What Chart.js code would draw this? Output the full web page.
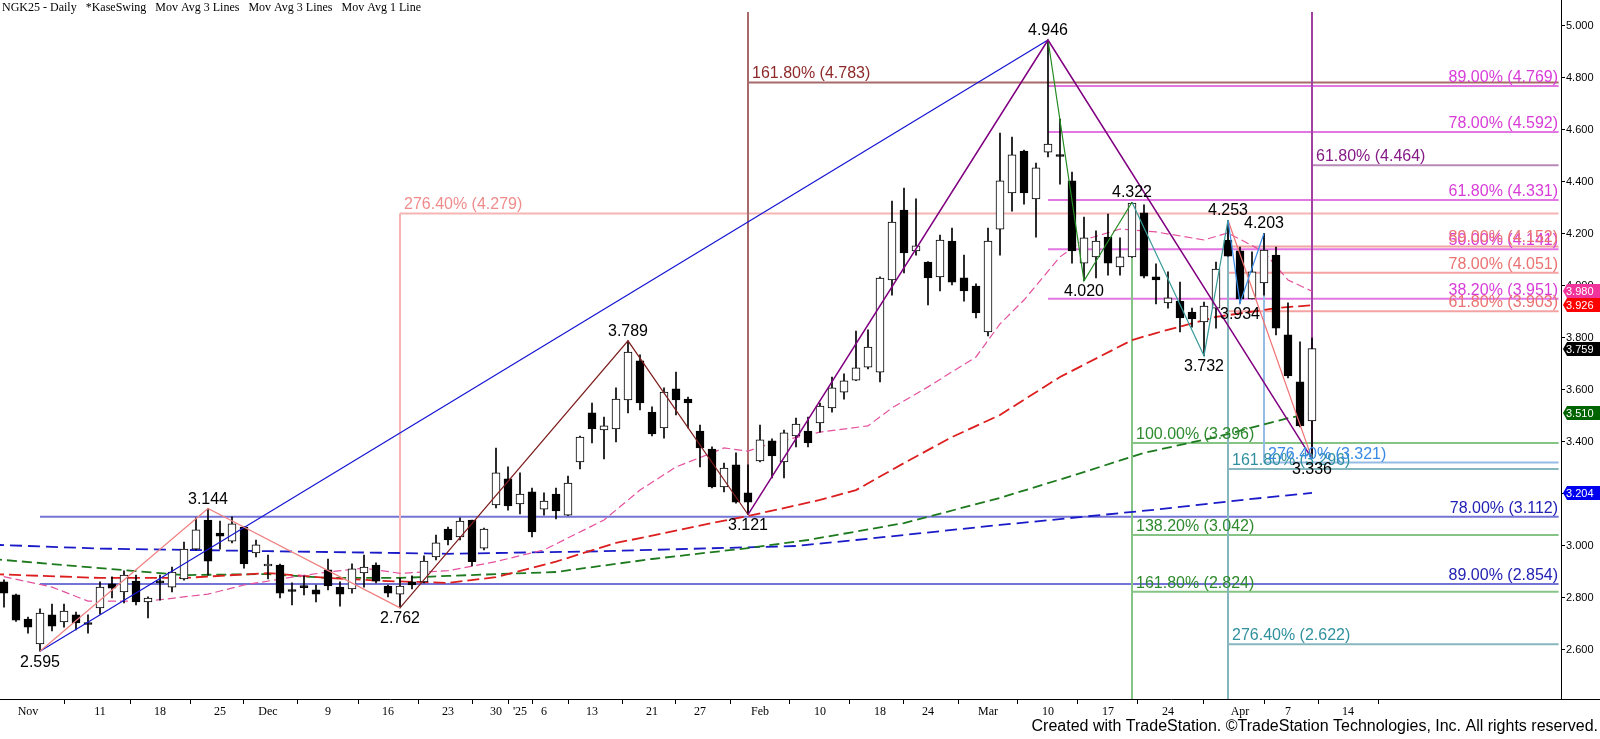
<!DOCTYPE html>
<html lang="en">
<head>
<meta charset="UTF-8">
<title>NGK25 - Daily</title>
<style>
  html, body { margin: 0; padding: 0; background: #fff; }
  #wrap { width: 1600px; height: 739px; }
</style>
</head>
<body>
<div id="wrap"><canvas id="myChart" width="1600" height="739"></canvas></div>

<script src="https://cdn.jsdelivr.net/npm/chart.js"></script>
<script>
// one bar per session, index 0 = Oct 30 2024 (holidays skipped)
const opens  = [2.862,2.812,2.719,2.623,2.735,2.708,2.735,2.702,2.762,2.854,2.823,2.865,2.785,2.865,2.842,2.873,2.988,3.100,3.050,3.019,
                3.073,2.973,2.923,2.927,2.829,2.844,2.831,2.908,2.842,2.835,2.896,2.927,2.846,2.815,2.862,2.862,2.958,3.065,3.035,3.100,
                2.992,3.158,3.258,3.162,3.208,3.142,3.200,3.119,3.323,3.512,3.446,3.450,3.562,3.712,3.515,3.454,3.604,3.565,3.442,3.373,
                3.227,3.312,3.204,3.327,3.404,3.323,3.423,3.442,3.473,3.531,3.592,3.638,3.688,3.669,4.023,4.292,4.135,4.092,4.035,4.173,
                4.031,4.000,3.823,4.219,4.358,4.519,4.335,4.515,4.502,4.404,4.088,4.112,4.188,4.073,4.112,4.281,4.035,3.935,3.942,3.900,
                3.862,3.915,4.177,4.135,3.950,4.012,4.119,3.812,3.631,3.481];
const highs  = [2.870,2.815,2.727,2.758,2.777,2.777,2.746,2.735,2.862,2.881,2.904,2.888,2.804,2.888,2.919,3.015,3.108,3.144,3.096,3.112,
                3.076,3.023,2.965,2.930,2.858,2.885,2.850,2.950,2.862,2.931,2.965,2.935,2.850,2.877,2.885,2.962,3.042,3.073,3.108,3.100,
                3.069,3.377,3.304,3.281,3.223,3.204,3.223,3.269,3.423,3.550,3.496,3.608,3.789,3.735,3.535,3.608,3.669,3.573,3.465,3.381,
                3.319,3.358,3.312,3.465,3.412,3.446,3.492,3.496,3.550,3.650,3.662,3.827,3.831,4.035,4.327,4.377,4.335,4.094,4.196,4.223,
                4.119,4.008,4.223,4.588,4.573,4.523,4.473,4.946,4.642,4.438,4.265,4.212,4.277,4.185,4.322,4.312,4.085,4.054,4.015,3.915,
                3.938,4.092,4.253,4.150,4.131,4.203,4.150,3.935,3.785,3.800];
const lows   = [2.765,2.710,2.665,2.595,2.673,2.688,2.677,2.665,2.738,2.800,2.781,2.773,2.723,2.792,2.823,2.869,2.985,2.888,2.988,3.012,
                2.915,2.958,2.873,2.800,2.773,2.812,2.785,2.831,2.769,2.819,2.842,2.858,2.804,2.762,2.835,2.858,2.946,3.004,3.023,2.923,
                2.985,3.146,3.138,3.123,3.035,3.119,3.104,3.117,3.296,3.396,3.335,3.400,3.512,3.523,3.423,3.415,3.504,3.454,3.304,3.223,
                3.208,3.165,3.121,3.323,3.262,3.262,3.381,3.381,3.438,3.515,3.565,3.636,3.681,3.631,3.965,4.050,4.119,3.927,3.981,4.004,
                3.942,3.877,3.808,4.119,4.288,4.315,4.188,4.496,4.392,4.088,4.020,4.031,4.042,4.042,4.110,4.031,3.931,3.915,3.823,3.842,
                3.732,3.838,4.115,3.934,3.950,3.965,3.812,3.646,3.458,3.336];
const closes = [2.819,2.715,2.688,2.742,2.692,2.750,2.704,2.698,2.842,2.838,2.888,2.785,2.800,2.858,2.900,2.988,3.062,2.942,3.038,3.085,
                2.931,3.004,2.927,2.819,2.825,2.840,2.815,2.846,2.815,2.912,2.919,2.865,2.819,2.846,2.850,2.942,3.012,3.023,3.096,2.940,
                3.065,3.281,3.154,3.200,3.054,3.173,3.135,3.242,3.419,3.450,3.462,3.565,3.746,3.550,3.431,3.592,3.562,3.550,3.377,3.227,
                3.300,3.169,3.169,3.408,3.346,3.435,3.469,3.396,3.538,3.608,3.635,3.685,3.765,4.030,4.246,4.127,4.154,4.031,4.177,4.015,
                3.981,3.896,4.173,4.404,4.504,4.358,4.454,4.546,4.498,4.135,4.185,4.173,4.088,4.112,4.319,4.038,4.023,3.954,3.877,3.873,
                3.923,4.065,4.115,3.950,4.054,4.138,3.838,3.654,3.462,3.759];

// date axis
const tickIdx    = [2, 8, 13, 18, 22, 27, 32, 37, 41, 43, 45, 49, 54, 58, 63, 68, 73, 77, 82, 87, 92, 97, 103, 107, 112];
const tickLabels = ['Nov','11','18','25','Dec','9','16','23','30',"'25",'6','13','21','27','Feb','10','18','24','Mar','10','17','24','Apr','7','14'];
const priceTicks = [2.6, 2.8, 3.0, 3.2, 3.4, 3.6, 3.8, 4.0, 4.2, 4.4, 4.6, 4.8, 5.0];

// moving averages (bar index, value)
const maPinkIdx  = [-1, 4, 7, 12, 17, 20, 24, 27, 30, 33, 37, 41, 45, 50, 53, 56, 59, 60, 62, 64, 68, 72, 74, 77, 81, 83, 85, 88, 90, 93, 96, 100, 102, 105, 107, 109];
const maPink     = [2.892,2.842,2.788,2.788,2.815,2.850,2.880,2.900,2.915,2.895,2.905,2.940,2.985,3.100,3.215,3.304,3.358,3.377,3.365,3.396,3.438,3.462,3.531,3.612,3.727,3.854,3.946,4.112,4.177,4.219,4.208,4.177,4.204,4.131,4.023,3.980];
const maRedIdx   = [-1, 8, 15, 22, 27, 32, 37, 41, 46, 51, 53, 59, 62, 68, 71, 75, 79, 83, 88, 94, 96, 101, 106, 109];
const maRed      = [2.892,2.877,2.877,2.896,2.877,2.865,2.858,2.880,2.940,3.012,3.030,3.088,3.115,3.177,3.215,3.319,3.419,3.504,3.650,3.792,3.819,3.881,3.915,3.926];
const maGreenIdx = [-1, 8, 15, 22, 27, 33, 37, 46, 54, 62, 67, 75, 83, 89, 95, 101, 107, 109];
const maGreen    = [2.950,2.915,2.888,2.892,2.877,2.877,2.885,2.900,2.950,2.992,3.023,3.088,3.185,3.270,3.358,3.419,3.492,3.510];
const maBlueIdx  = [-1, 8, 22, 33, 37, 50, 62, 66, 71, 83, 96, 104, 109];
const maBlue     = [3.005,2.990,2.980,2.973,2.970,2.980,2.995,3.000,3.023,3.081,3.140,3.181,3.204];

// swing pivots
const swingIdx = [3, 17, 33, 52, 62, 87, 90, 94, 100, 102, 103, 105, 109];
const swingVal = [2.595, 3.144, 2.762, 3.789, 3.121, 4.946, 4.020, 4.322, 3.732, 4.253, 3.934, 4.203, 3.336];

// fib levels, grouped by the pivot they are drawn from
const fibBluePct    = ['78.00%', '89.00%'];                               // from 2.595
const fibBlueVal    = [3.112, 2.854];
const fibPinkPct    = ['276.40%'];                                        // from 2.762
const fibPinkVal    = [4.279];
const fibBrownPct   = ['161.80%'];                                        // from 3.121
const fibBrownVal   = [4.783];
const fibMagPct     = ['89.00%', '78.00%', '61.80%', '50.00%', '38.20%']; // from 4.946
const fibMagVal     = [4.769, 4.592, 4.331, 4.141, 3.951];
const fibGreenPct   = ['100.00%', '138.20%', '161.80%'];                  // from 4.322
const fibGreenVal   = [3.396, 3.042, 2.824];
const fibTealPct    = ['161.80%', '276.40%'];                             // from 4.253
const fibTealVal    = [3.296, 2.622];
const fibSalmonPct  = ['89.00%', '78.00%', '61.80%'];                     // from 4.253
const fibSalmonVal  = [4.152, 4.051, 3.903];
const fibLtBluePct  = ['276.40%'];                                        // from 4.203
const fibLtBlueVal  = [3.321];
const fibPurplePct  = ['61.80%'];                                         // from 3.336
const fibPurpleVal  = [4.464];

const X_MIN = -1 / 3, X_MAX = 129.75;
const Y_MIN = 2.4115, Y_MAX = 5.0538;

const ctx = document.getElementById('myChart');

const pts = (idx, vals) => idx.map((v, i) => ({ x: v, y: vals[i] }));
const pivot = k => ({ x: swingIdx[k], y: swingVal[k] });

function lineDs(data, color, width, dash, order) {
    return {
        type: 'line', data: data, borderColor: color, borderWidth: width,
        borderDash: dash || [], pointRadius: 0, tension: 0, fill: false, order: order
    };
}

// fib groups: [pivot k, pct, val, line colour, label colour, label side]
const fibGroups = [
    [0, fibBluePct, fibBlueVal, '#7474d6', '#2222b4', 'right'],
    [2, fibPinkPct, fibPinkVal, '#f6b4b4', '#f08c8c', 'left'],
    [4, fibBrownPct, fibBrownVal, '#a86a6a', '#8e2a2a', 'left'],
    [5, fibMagPct, fibMagVal, '#e276e2', '#d83cd8', 'right'],
    [7, fibGreenPct, fibGreenVal, '#86c486', '#2e8a2e', 'left'],
    [9, fibTealPct, fibTealVal, '#86b6be', '#30909e', 'left'],
    [9, fibSalmonPct, fibSalmonVal, '#f4a2a2', '#ea7272', 'right'],
    [11, fibLtBluePct, fibLtBlueVal, '#96bce6', '#3a8ae4', 'left'],
    [12, fibPurplePct, fibPurpleVal, '#b888b8', '#861a86', 'left']
];

const datasets = [];

// zigzag swing lines
datasets.push(lineDs([pivot(0), pivot(1), pivot(2)], '#f08080', 1.2, null, 1));
datasets.push(lineDs([pivot(2), pivot(3), pivot(4)], '#7e1e1e', 1.2, null, 1));
datasets.push(lineDs([pivot(4), pivot(5), pivot(12)], '#800080', 1.5, null, 1));
datasets.push(lineDs([pivot(0), pivot(5)], '#1414d2', 1.2, null, 1));
datasets.push(lineDs([pivot(5), pivot(6), pivot(7)], '#228b22', 1.2, null, 1));
datasets.push(lineDs([pivot(7), pivot(8), pivot(9)], '#3a9a9a', 1.2, null, 1));
datasets.push(lineDs([pivot(9), pivot(10), pivot(11)], '#3b8ee8', 1.2, null, 1));
datasets.push(lineDs([pivot(9), pivot(12)], '#f07070', 1.2, null, 1));

// candles
datasets.push({
    type: 'bar', order: 2, grouped: false, barThickness: 8, minBarLength: 2,
    data: opens.map((o, i) => ({ x: i, y: [o, closes[i]] })),
    backgroundColor: opens.map((o, i) => closes[i] >= o ? '#ffffff' : '#000000'),
    borderColor: '#000000', borderWidth: 1, borderSkipped: false
});
datasets.push({
    type: 'bar', order: 3, grouped: false, barThickness: 1,
    data: highs.map((h, i) => ({ x: i, y: [lows[i], h] })),
    backgroundColor: '#000000', borderWidth: 0
});

// moving averages
datasets.push(lineDs(pts(maPinkIdx, maPink), '#e4509e', 1.2, [8, 4], 4));
datasets.push(lineDs(pts(maRedIdx, maRed), '#dc1e1e', 1.8, [12, 5], 4));
datasets.push(lineDs(pts(maGreenIdx, maGreen), '#1e7a1e', 1.8, [10, 5], 4));
datasets.push(lineDs(pts(maBlueIdx, maBlue), '#1a1ac8', 1.8, [12, 6], 4));

// vertical marker lines
datasets.push(lineDs([pivot(4), { x: swingIdx[4], y: Y_MAX }], '#a86a6a', 2, null, 5));
datasets.push(lineDs([pivot(2), { x: swingIdx[2], y: fibPinkVal[0] }], '#f6b4b4', 2, null, 5));
datasets.push(lineDs([pivot(7), { x: swingIdx[7], y: Y_MIN }], '#86c486', 2, null, 5));
datasets.push(lineDs([pivot(9), { x: swingIdx[9], y: Y_MIN }], '#86b6be', 2, null, 5));
datasets.push(lineDs([pivot(11), { x: swingIdx[11], y: fibLtBlueVal[0] }], '#96bce6', 2, null, 5));
datasets.push(lineDs([pivot(12), { x: swingIdx[12], y: Y_MAX }], '#a040a0', 2, null, 5));

// horizontal fib lines
fibGroups.forEach(g => {
    g[2].forEach(v => {
        datasets.push(lineDs([{ x: swingIdx[g[0]], y: v }, { x: X_MAX - 0.2, y: v }], g[3], 2, null, 6));
    });
});

const overlay = {
    id: 'overlay',
    afterDatasetsDraw(chart) {
        const c = chart.ctx, area = chart.chartArea;
        const xs = chart.scales.x, ys = chart.scales.y;
        c.save();

        // fib labels
        c.font = '16px "Liberation Sans", Arial, sans-serif';
        c.textBaseline = 'alphabetic';
        fibGroups.forEach(g => {
            c.fillStyle = g[4];
            g[2].forEach((v, j) => {
                const txt = g[1][j] + ' (' + v.toFixed(3) + ')';
                const py = ys.getPixelForValue(v) - 4;
                if (g[5] === 'right') {
                    c.textAlign = 'right';
                    c.fillText(txt, area.right - 3, py);
                } else {
                    c.textAlign = 'left';
                    c.fillText(txt, xs.getPixelForValue(swingIdx[g[0]]) + 4, py);
                }
            });
        });

        // pivot labels
        c.fillStyle = '#000';
        c.textAlign = 'center';
        swingVal.forEach((v, k) => {
            const other = k + 1 < swingVal.length ? swingVal[k + 1] : swingVal[k - 1];
            const px = xs.getPixelForValue(swingIdx[k]), py = ys.getPixelForValue(v);
            if (v > other) {
                c.textBaseline = 'alphabetic';
                c.fillText(v.toFixed(3), px, py - 5);
            } else {
                c.textBaseline = 'top';
                c.fillText(v.toFixed(3), px, py + 3);
            }
        });

        // value flags on the price axis
        const flags = [
            [maPink[maPink.length - 1], '#f0349c'],
            [maRed[maRed.length - 1], '#ff0000'],
            [closes[closes.length - 1], '#000000'],
            [maGreen[maGreen.length - 1], '#006400'],
            [maBlue[maBlue.length - 1], '#0000f0']
        ];
        c.font = '11px "Liberation Sans", Arial, sans-serif';
        c.textAlign = 'left';
        c.textBaseline = 'middle';
        flags.forEach(f => {
            const py = Math.round(ys.getPixelForValue(f[0]));
            c.fillStyle = f[1];
            c.beginPath();
            c.moveTo(area.right + 2, py);
            c.lineTo(area.right + 6, py - 7);
            c.lineTo(1600, py - 7);
            c.lineTo(1600, py + 7);
            c.lineTo(area.right + 6, py + 7);
            c.closePath();
            c.fill();
            c.fillStyle = '#fff';
            c.fillText(f[0].toFixed(3), area.right + 5, py + 1);
        });

        // axis lines: price axis up to the top edge, date axis out to the right edge
        c.strokeStyle = '#000';
        c.lineWidth = 1;
        c.beginPath();
        c.moveTo(area.right + 0.5, 0);
        c.lineTo(area.right + 0.5, area.top);
        c.moveTo(area.right, area.bottom + 0.5);
        c.lineTo(1600, area.bottom + 0.5);
        c.stroke();

        // title and footer
        c.fillStyle = '#000';
        c.font = '12px "Liberation Serif", "Times New Roman", serif';
        c.textAlign = 'left';
        c.textBaseline = 'middle';
        c.fillText('NGK25 - Daily   *KaseSwing   Mov Avg 3 Lines   Mov Avg 3 Lines   Mov Avg 1 Line', 2, 8);
        c.font = '16px "Liberation Sans", Arial, sans-serif';
        c.textAlign = 'right';
        c.fillText('Created with TradeStation. \u00A9TradeStation Technologies, Inc. All rights reserved.', 1598, 727);
        c.restore();
    }
};

const chartConfig = {
    type: 'bar',
    data: { datasets: datasets },
    options: {
        responsive: false,
        animation: false,
        devicePixelRatio: 1,
        layout: { padding: { top: 12, left: 0, right: 0, bottom: 0 } },
        plugins: { legend: { display: false }, tooltip: { enabled: false } },
        scales: {
            x: {
                type: 'linear', min: X_MIN, max: X_MAX, offset: false,
                grid: { display: true, drawOnChartArea: false, tickLength: 5, color: '#000' },
                border: { color: '#000', width: 1 },
                afterBuildTicks: axis => { axis.ticks = tickIdx.map(v => ({ value: v })); },
                afterFit: axis => { axis.height = 40; },
                ticks: {
                    autoSkip: false, maxRotation: 0, padding: 1, color: '#000',
                    font: { family: '"Liberation Serif", "Times New Roman", serif', size: 12 },
                    callback: (v, i) => tickLabels[i]
                }
            },
            y: {
                type: 'linear', position: 'right', min: Y_MIN, max: Y_MAX, beginAtZero: false,
                grid: { display: true, drawOnChartArea: false, tickLength: 4, color: '#000' },
                border: { color: '#000', width: 1 },
                afterBuildTicks: axis => { axis.ticks = priceTicks.map(v => ({ value: v })); },
                afterFit: axis => { axis.width = 39; },
                ticks: {
                    padding: 1, color: '#000',
                    font: { family: '"Liberation Sans", Arial, sans-serif', size: 11 },
                    callback: v => v.toFixed(3)
                }
            }
        }
    },
    plugins: [overlay]
};

const myChart = new Chart(ctx, chartConfig);
</script>
</body>
</html>
